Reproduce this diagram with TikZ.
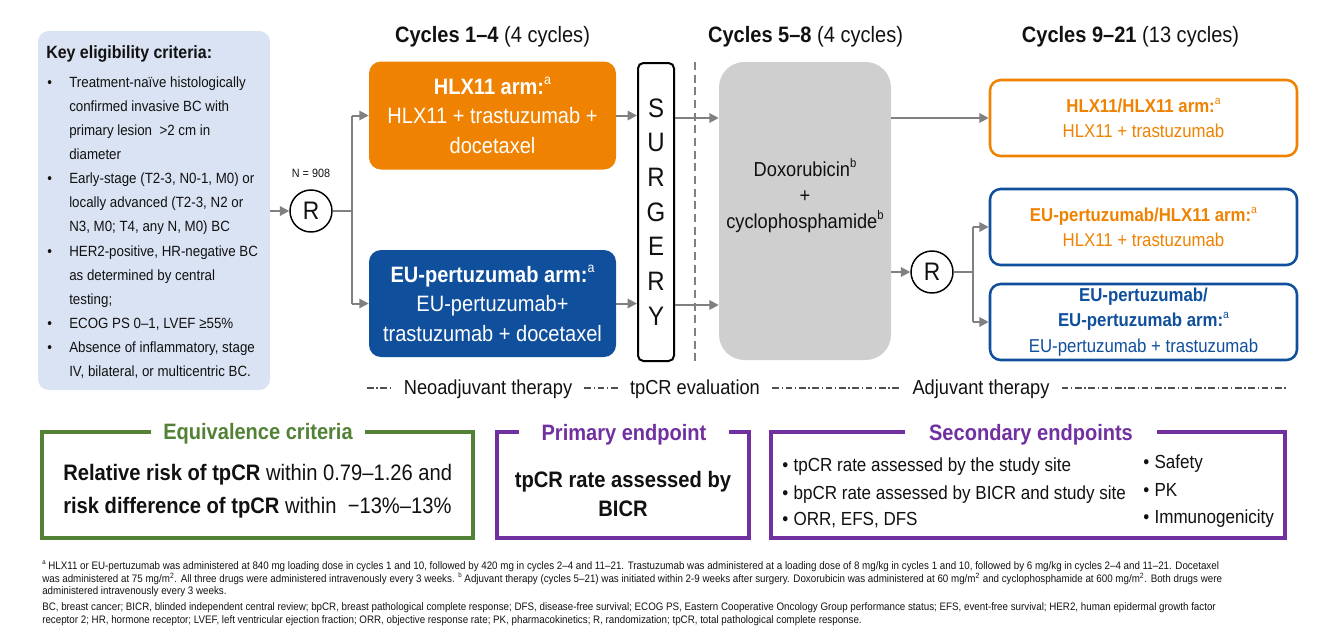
\documentclass[tikz,border=0pt]{standalone}
\usepackage{fontspec}
\setmainfont{Liberation Sans}[FakeStretch=0.9]
\usetikzlibrary{arrows.meta}
\definecolor{eligblue}{HTML}{DAE3F3}
\definecolor{hlxorange}{HTML}{EF8200}
\definecolor{eublue}{HTML}{104F9C}
\definecolor{doxgray}{HTML}{D0CFD0}
\definecolor{arrgray}{HTML}{808080}
\definecolor{eqgreen}{HTML}{538135}
\definecolor{endpurple}{HTML}{7030A0}
\definecolor{txtblack}{HTML}{111111}
\definecolor{leggray}{HTML}{505050}
\newcommand\fsz[2]{\fontsize{#1}{#2}\selectfont}
\newcommand\sups[1]{\raisebox{0.42em}{\scalebox{0.62}{#1}}}
\begin{document}
\begin{tikzpicture}[x=0.75pt,y=-0.75pt,
  every node/.style={inner sep=0pt, text=txtblack},
  elt/.style={anchor=base west, font=\fsz{11.1}{13}},
  armbox/.style={rounded corners=9pt, minimum width=185.25pt, align=center, text=white, font=\fsz{16.7}{22.1}},
  rbox/.style={draw, line width=1.9pt, rounded corners=8pt, fill=white, minimum width=230.25pt, minimum height=57pt, align=center, font=\fsz{14}{19}},
  rcirc/.style={circle, draw=black, line width=1.1pt, fill=white, minimum size=31.5pt, font=\fsz{19}{20}},
  arr/.style={draw=arrgray, line width=1.5pt, -{Triangle[length=7pt,width=7pt]}},
  gline/.style={draw=arrgray, line width=1.5pt},
  hdr/.style={anchor=base, font=\fsz{16.7}{20}},
  legtxt/.style={anchor=base, font=\fsz{15.2}{18}},
  legline/.style={draw=leggray, line width=0.8pt, dash pattern=on 5pt off 2pt on 1pt off 2pt},
  endbox/.style={draw, line width=2.3pt, fill=white, minimum height=79.5pt},
  endtitle/.style={anchor=base, fill=white, inner ysep=2pt, font=\bfseries\fsz{16.7}{20}},
  bodytxt/.style={anchor=base, font=\fsz{16.8}{20}},
  sectxt/.style={anchor=base west, font=\fsz{14.2}{17}},
  foot/.style={anchor=base west, font=\fsz{8.15}{9.4}}
]
\useasboundingbox (0,0) rectangle (1328,636);

% ---------- eligibility box ----------
\node[fill=eligblue, rounded corners=8pt, minimum width=174pt, minimum height=269.25pt] (elig) at (154,210.5) {};
\node[anchor=base west, font=\bfseries\fsz{13.3}{16}] (etitle) at (46,58.3) {Key eligibility criteria:};
\node[elt] (eb1) at (47,87) {•};
\node[elt] (eb2) at (47,183.6) {•};
\node[elt] (eb3) at (47,256) {•};
\node[elt] (eb4) at (47,328.4) {•};
\node[elt] (eb5) at (47,352.5) {•};
\node[elt] (e1) at (69,87) {Treatment-naïve histologically};
\node[elt] (e2) at (69,111.1) {confirmed invasive BC with};
\node[elt] (e3) at (69,135.3) {primary lesion \ >2 cm in};
\node[elt] (e4) at (69,159.4) {diameter};
\node[elt] (e5) at (69,183.6) {Early-stage (T2-3, N0-1, M0) or};
\node[elt] (e6) at (69,207.7) {locally advanced (T2-3, N2 or};
\node[elt] (e7) at (69,231.8) {N3, M0; T4, any N, M0) BC};
\node[elt] (e8) at (69,256) {HER2-positive, HR-negative BC};
\node[elt] (e9) at (69,280.1) {as determined by central};
\node[elt] (e10) at (69,304.3) {testing;};
\node[elt] (e11) at (69,328.4) {ECOG PS 0–1, LVEF ≥55\%};
\node[elt] (e12) at (69,352.5) {Absence of inflammatory, stage};
\node[elt] (e13) at (69,376.7) {IV, bilateral, or multicentric BC.};

% ---------- headers ----------
\node[hdr] (h1) at (492.5,42) {\textbf{Cycles 1–4} (4 cycles)};
\node[hdr] (h2) at (805.5,42) {\textbf{Cycles 5–8} (4 cycles)};
\node[hdr] (h3) at (1130.5,42) {\textbf{Cycles 9–21} (13 cycles)};

% ---------- randomisation 1 ----------
\node[rcirc] (r1) at (311,211) {R};
\node[anchor=base, font=\fsz{9}{10}] (n908) at (311,177) {N = 908};

% ---------- arms ----------
\node[armbox, fill=hlxorange, minimum height=81pt] (hlx) at (492.5,115.5)
  {\textbf{HLX11 arm:}\sups{a}\\HLX11 + trastuzumab +\\docetaxel};
\node[armbox, fill=eublue, minimum height=80.25pt] (eu) at (492.5,303.5)
  {\textbf{EU-pertuzumab arm:}\sups{a}\\EU-pertuzumab+\\trastuzumab + docetaxel};

% ---------- surgery ----------
\node[draw=black, line width=1.5pt, rounded corners=4pt, fill=white, minimum width=27pt, minimum height=223.5pt, align=center, font=\fsz{20}{26}] (surg) at (656,212) {S\\U\\R\\G\\E\\R\\Y};

% dashed separator
\coordinate (dtop) at (695,62);
\coordinate (dbot) at (695,362);
\draw[draw=arrgray, line width=2.2pt, dash pattern=on 6pt off 3.5pt] (dtop) -- (dbot);

% ---------- doxorubicin ----------
\node[fill=doxgray, rounded corners=19pt, minimum width=129pt, minimum height=223.5pt] (dox) at (805,211) {};
\node[anchor=base, font=\fsz{15.2}{18}] (dx1) at (805,176) {Doxorubicin\sups{b}};
\node[anchor=base, font=\fsz{15.2}{18}] (dx2) at (805,202) {+};
\node[anchor=base, font=\fsz{15.2}{18}] (dx3) at (805,228) {cyclophosphamide\sups{b}};

% ---------- adjuvant arms ----------
\node[rbox, draw=hlxorange, text=hlxorange] (o1) at (1143.5,118)
  {\textbf{HLX11/HLX11 arm:}\sups{a}\\HLX11 + trastuzumab};
\node[rbox, draw=eublue, text=hlxorange] (b1) at (1143.5,227)
  {\textbf{EU-pertuzumab/HLX11 arm:}\sups{a}\\HLX11 + trastuzumab};
\node[rbox, draw=eublue, text=eublue] (b2) at (1143.5,322)
  {\textbf{EU-pertuzumab/}\\\textbf{EU-pertuzumab arm:}\sups{a}\\EU-pertuzumab + trastuzumab};
\node[rcirc] (r2) at (932,272) {R};

% ---------- connectors ----------
\draw[arr] (elig.east |- r1) -- (r1.west);
\draw[gline] (r1.east) -- ++(19,0) coordinate (br1);
\draw[gline] (br1 |- hlx.west) -- (br1 |- eu.west);
\draw[arr] (br1 |- hlx.west) -- (hlx.west);
\draw[arr] (br1 |- eu.west) -- (eu.west);
\draw[arr] (hlx.east) -- (surg.west |- hlx.east);
\draw[arr] (eu.east) -- (surg.west |- eu.east);
\draw[arr] (surg.east |- 0,118) -- (dox.west |- 0,118);
\draw[arr] (surg.east |- 0,305) -- (dox.west |- 0,305);
\draw[arr] (dox.east |- o1.west) -- (o1.west);
\draw[arr] (dox.east |- r2) -- (r2.west);
\draw[gline] (r2.east) -- ++(19,0) coordinate (br2);
\draw[gline] (br2 |- b1.west) -- (br2 |- b2.west);
\draw[arr] (br2 |- b1.west) -- (b1.west);
\draw[arr] (br2 |- b2.west) -- (b2.west);

% ---------- legend ----------
\node[legtxt] (neo) at (488,394) {Neoadjuvant therapy};
\node[legtxt] (tpe) at (695,394) {tpCR evaluation};
\node[legtxt] (adj) at (981,394) {Adjuvant therapy};
\coordinate (lg0) at (367,388);
\coordinate (lg1) at (1288,388);
\draw[legline] (lg0) -- ([xshift=-9pt]neo.west |- lg0);
\draw[legline] ([xshift=9pt]neo.east |- lg0) -- ([xshift=-9pt]tpe.west |- lg0);
\draw[legline] ([xshift=9pt]tpe.east |- lg0) -- ([xshift=-9pt]adj.west |- lg0);
\draw[legline] ([xshift=9pt]adj.east |- lg0) -- (lg1);

% ---------- bottom boxes ----------
\node[endbox, draw=eqgreen, minimum width=323.25pt] (eq) at (257.5,485) {};
\node[endtitle, text=eqgreen, inner xsep=9pt] (eqt) at (258,439) {Equivalence criteria};
\node[anchor=base west, font=\fsz{16.8}{20}] (eq1) at (63,480) {\textbf{Relative risk of tpCR} within 0.79–1.26 and};
\node[anchor=base west, font=\fsz{16.8}{20}] (eq2) at (63,513) {\textbf{risk difference of tpCR} within \ −13\%–13\%};

\node[endbox, draw=endpurple, minimum width=189pt] (prim) at (623,485) {};
\node[endtitle, text=endpurple, inner xsep=17pt] (primt) at (624,440) {Primary endpoint};
\node[bodytxt, font=\bfseries\fsz{16.8}{20}] (p1) at (623,487) {tpCR rate assessed by};
\node[bodytxt, font=\bfseries\fsz{16.8}{20}] (p2) at (623,516) {BICR};

\node[endbox, draw=endpurple, minimum width=385.5pt] (sec) at (1028,485) {};
\node[endtitle, text=endpurple, inner xsep=18pt] (sect) at (1031,440) {Secondary endpoints};
\node[sectxt] (s1) at (782,471) {•\hspace{4pt}tpCR rate assessed by the study site};
\node[sectxt] (s2) at (782,499) {•\hspace{4pt}bpCR rate assessed by BICR and study site};
\node[sectxt] (s3) at (782,525) {•\hspace{4pt}ORR, EFS, DFS};
\node[sectxt] (s4) at (1143,468) {•\hspace{4pt}Safety};
\node[sectxt] (s5) at (1143,496) {•\hspace{4pt}PK};
\node[sectxt] (s6) at (1143,523) {•\hspace{4pt}Immunogenicity};

% ---------- footnotes ----------
\node[foot] (f1) at (42,569) {\sups{a} HLX11 or EU-pertuzumab was administered at 840 mg loading dose in cycles 1 and 10, followed by 420 mg in cycles 2–4 and 11–21. Trastuzumab was administered at a loading dose of 8 mg/kg in cycles 1 and 10, followed by 6 mg/kg in cycles 2–4 and 11–21. Docetaxel};
\node[foot] (f2) at (42,582) {was administered at 75 mg/m\textsuperscript{2}. All three drugs were administered intravenously every 3 weeks. \sups{b} Adjuvant therapy (cycles 5–21) was initiated within 2-9 weeks after surgery. Doxorubicin was administered at 60 mg/m\textsuperscript{2} and cyclophosphamide at 600 mg/m\textsuperscript{2}. Both drugs were};
\node[foot] (f3) at (42,594.5) {administered intravenously every 3 weeks.};
\node[foot] (f4) at (42,610) {BC, breast cancer; BICR, blinded independent central review; bpCR, breast pathological complete response; DFS, disease-free survival; ECOG PS, Eastern Cooperative Oncology Group performance status; EFS, event-free survival; HER2, human epidermal growth factor};
\node[foot] (f5) at (42,623.5) {receptor 2; HR, hormone receptor; LVEF, left ventricular ejection fraction; ORR, objective response rate; PK, pharmacokinetics; R, randomization; tpCR, total pathological complete response.};
\end{tikzpicture}
\end{document}
